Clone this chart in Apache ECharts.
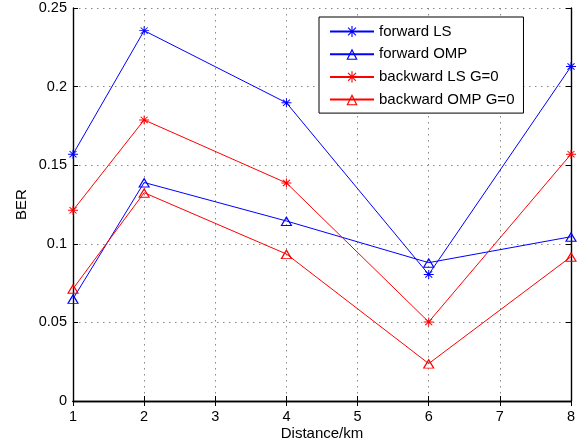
<!DOCTYPE html>
<html>
<head>
<meta charset="utf-8">
<script src="https://cdn.jsdelivr.net/npm/echarts@6/dist/echarts.min.js"></script>
<style>
  html, body { margin: 0; padding: 0; background: #fff; }
  #chart { width: 581px; height: 445px; }
</style>
</head>
<body>
<div id="chart"></div>
<script>
const distances = [1, 2, 4, 6, 8]
const forwardLS = [0.157, 0.2356, 0.1897, 0.0805, 0.2128]
const forwardOMP = [0.065, 0.139, 0.1145, 0.088, 0.1045]
const backwardLS = [0.1213, 0.1788, 0.1387, 0.0503, 0.157]
const backwardOMP = [0.0714, 0.1325, 0.0935, 0.0238, 0.0918]
const seriesNames = ['forward LS', 'forward OMP', 'backward LS G=0', 'backward OMP G=0']

const font = '"Liberation Sans", Arial, sans-serif'
// matlab style markers: '*' and hollow triangle
const star = 'path://M0,4.5L10,4.5L10,5.5L0,5.5Z M4.5,0L5.5,0L5.5,10L4.5,10Z M1.15,1.85L1.85,1.15L8.85,8.15L8.15,8.85Z M8.15,1.15L8.85,1.85L1.85,8.85L1.15,8.15Z'
const triangle = 'path://M5,0L10,9L0,9Z M5,2.2L1.65,8.2L8.35,8.2Z'

const pairs = ys => distances.map((x, i) => [x, ys[i]])

const makeSeries = (name, ys, color, isStar) => ({
  name,
  type: 'line',
  data: pairs(ys),
  symbol: isStar ? star : triangle,
  symbolSize: isStar ? [10, 9] : [12, 10],
  showAllSymbol: true,
  lineStyle: { color, width: 1 },
  itemStyle: { color, borderWidth: 0 },
  emphasis: { disabled: true },
  z: 3
})

const chart = echarts.init(document.getElementById('chart'))
const tickInside = { show: true, inside: true, length: 5, lineStyle: { color: '#000' } }
const axisLineBlack = { show: true, lineStyle: { color: '#000', width: 1.4 } }
const gridDots = { show: true, lineStyle: { color: '#888', type: [1.5, 4.5], width: 1 } }

chart.setOption({
  backgroundColor: '#fff',
  animation: false,
  textStyle: { fontFamily: font },
  grid: { left: 73, right: 10, top: 8, bottom: 44, containLabel: false, outerBoundsMode: 'none' },
  legend: {
    orient: 'vertical',
    left: 319,
    top: 17,
    data: seriesNames,
    itemWidth: 44,
    itemHeight: 14,
    itemGap: 7.7,
    padding: [7, 9, 6, 10],
    backgroundColor: '#fff',
    borderColor: '#000',
    borderWidth: 1,
    textStyle: { fontFamily: font, fontSize: 15, lineHeight: 14, color: '#000' },
    selectedMode: false
  },
  xAxis: [{
    type: 'value',
    min: 1,
    max: 8,
    interval: 1,
    name: 'Distance/km',
    nameLocation: 'middle',
    nameGap: 25,
    nameMoveOverlap: false,
    nameTextStyle: { fontFamily: font, fontSize: 15, color: '#000' },
    axisLine: axisLineBlack,
    axisTick: tickInside,
    axisLabel: { fontFamily: font, fontSize: 14.5, color: '#000', margin: 8 },
    splitLine: gridDots
  }, {
    type: 'value',
    min: 1,
    max: 8,
    interval: 1,
    position: 'top',
    axisLine: axisLineBlack,
    axisTick: tickInside,
    axisLabel: { show: false },
    splitLine: { show: false }
  }],
  yAxis: [{
    type: 'value',
    min: 0,
    max: 0.25,
    interval: 0.05,
    name: 'BER',
    nameLocation: 'middle',
    nameGap: 44,
    nameMoveOverlap: false,
    nameRotate: 90,
    nameTextStyle: { fontFamily: font, fontSize: 15, color: '#000' },
    axisLine: axisLineBlack,
    axisTick: tickInside,
    axisLabel: { fontFamily: font, fontSize: 14.5, color: '#000', margin: 6 },
    splitLine: gridDots
  }, {
    type: 'value',
    min: 0,
    max: 0.25,
    interval: 0.05,
    position: 'right',
    axisLine: axisLineBlack,
    axisTick: tickInside,
    axisLabel: { show: false },
    splitLine: { show: false }
  }],
  series: [
    makeSeries(seriesNames[0], forwardLS, '#0000ff', true),
    makeSeries(seriesNames[1], forwardOMP, '#0000ff', false),
    makeSeries(seriesNames[2], backwardLS, '#ff0000', true),
    makeSeries(seriesNames[3], backwardOMP, '#ff0000', false)
  ]
})
</script>
</body>
</html>
